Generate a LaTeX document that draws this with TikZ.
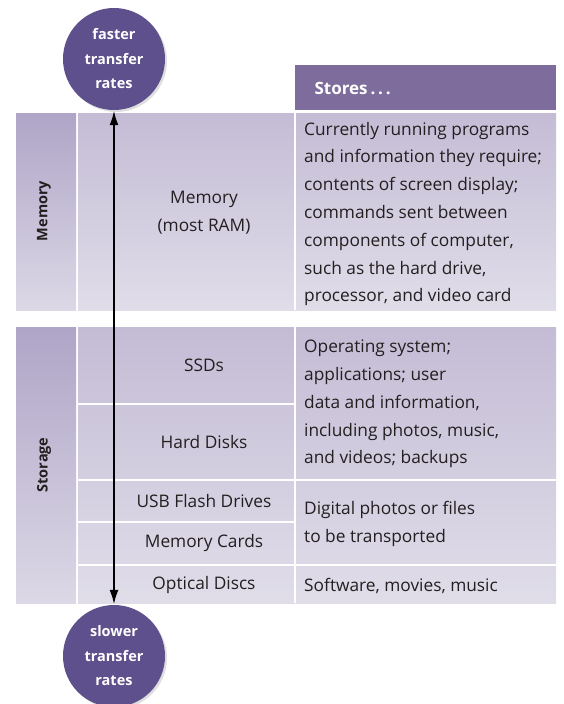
\documentclass[tikz,border=0pt]{standalone}
\usepackage{fontspec}
\setmainfont{Open Sans}
\usetikzlibrary{arrows.meta,shadows}

\definecolor{discpurple}{RGB}{94,80,140}
\definecolor{headpurple}{RGB}{126,108,156}
\definecolor{inktext}{RGB}{35,31,32}
\definecolor{labtop}{RGB}{175,165,199}
\definecolor{labbot}{RGB}{220,216,230}
\definecolor{celltop}{RGB}{196,188,213}
\definecolor{cellbot}{RGB}{224,221,233}

\tikzset{
  disc/.style={circle, fill=discpurple, minimum size=102pt, inner sep=0pt,
    text=white, font=\fontsize{14.5}{24.5}\selectfont\bfseries, align=center,
    drop shadow={opacity=0.25, shadow xshift=2pt, shadow yshift=-2pt}},
  grouplabel/.style={rotate=90, text=inktext, font=\fontsize{14.5}{16}\selectfont\bfseries},
  itemtext/.style={text=inktext, font=\fontsize{17.3}{28}\selectfont, align=center},
  storetext/.style={text=inktext, font=\fontsize{17.3}{27.8}\selectfont, align=left, anchor=west, inner sep=0pt},
  sep/.style={white, line width=2pt},
  rate/.style={{Latex[length=15pt,width=9pt]}-{Latex[length=15pt,width=9pt]}, line width=2.4pt, black}
}

\begin{document}
\begin{tikzpicture}[x=1pt,y=-1pt]
\useasboundingbox (0,0) rectangle (563,704);

% header of the description column
\fill[headpurple] (295,65) rectangle (556,110);
\node[anchor=west, text=white, font=\fontsize{17}{18}\selectfont\bfseries] (hdr) at (311,88) {Stores\,.\,.\,.};

% memory block
\shade[top color=labtop, bottom color=labbot] (16,113) rectangle (76,310);
\shade[top color=celltop, bottom color=cellbot] (78,113) rectangle (556,310);
\draw[sep] (295,113) -- (295,310);

% storage block
\shade[top color=labtop, bottom color=labbot] (16,327) rectangle (76,603);
\shade[top color=celltop, bottom color=cellbot] (78,327) rectangle (556,603);
\draw[sep] (295,327) -- (295,603);
\draw[sep] (78,404) -- (294,404);
\draw[sep] (78,480) -- (556,480);
\draw[sep] (78,522) -- (294,522);
\draw[sep] (78,565) -- (556,565);

% group labels
\node[grouplabel] (lmem) at (44,211) {Memory};
\node[grouplabel] (lsto) at (44,465) {Storage};

% device names
\node[itemtext] (ram) at (204,213) {Memory\\(most RAM)};
\node[itemtext] (ssd) at (204,365) {SSDs};
\node[itemtext] (hdd) at (204,442) {Hard Disks};
\node[itemtext] (usb) at (204,501) {USB Flash Drives};
\node[itemtext] (card) at (204,543) {Memory Cards};
\node[itemtext] (opt) at (204,585) {Optical Discs};

% what each device stores
\node[storetext] (sram) at (304,214) {Currently running programs\\and information they require;\\contents of screen display;\\commands sent between\\components of computer,\\such as the hard drive,\\processor, and video card};
\node[storetext] (sdisk) at (304,404) {Operating system;\\applications; user\\data and information,\\including photos, music,\\and videos; backups};
\node[storetext] (sflash) at (304,524) {Digital photos or files\\to be transported};
\node[storetext] (sopt) at (304,586) {Software, movies, music};

% speed scale
\node[disc] (fast) at (114,59) {faster\\transfer\\rates};
\node[disc] (slow) at (114,656) {slower\\transfer\\rates};
\draw[rate] (fast.south) -- (slow.north);
\end{tikzpicture}
\end{document}
